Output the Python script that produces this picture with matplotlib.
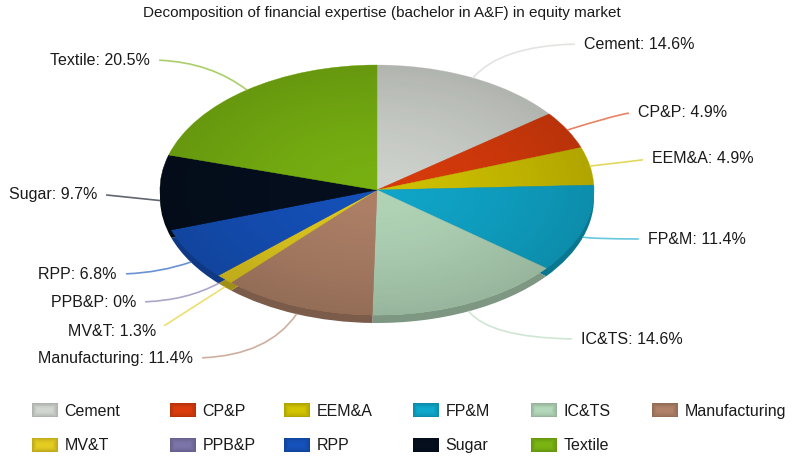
import numpy as np
import matplotlib
matplotlib.use("Agg")
import matplotlib.pyplot as plt
from matplotlib.colors import to_rgb
from matplotlib.legend_handler import HandlerBase
from matplotlib.patches import Circle, Patch, Rectangle

# --- data ---
categories = ["Cement", "CP&P", "EEM&A", "FP&M", "IC&TS", "Manufacturing",
              "MV&T", "PPB&P", "RPP", "Sugar", "Textile"]
shares = [14.6, 4.9, 4.9, 11.4, 14.6, 11.4, 1.3, 0, 6.8, 9.7, 20.5]
share_labels = ["14.6%", "4.9%", "4.9%", "11.4%", "14.6%", "11.4%",
                "1.3%", "0%", "6.8%", "9.7%", "20.5%"]
colors = ["#d2d6d0", "#dc3c0c", "#d2c400", "#10a8cc", "#b4d8ba", "#b08268",
          "#e4cc20", "#7b74a8", "#1552bc", "#050f1e", "#7ab412"]
title = "Decomposition of financial expertise (bachelor in A&F) in equity market"

# label layout, pixels from the top left of the picture
label_x = [584, 638, 652, 648, 581, 193, 156, 136, 117, 97, 150]
label_y = [44, 112, 158, 239, 339, 358, 331, 302, 274, 194, 60]
label_side = ["left"] * 5 + ["right"] * 6

# legend columns, left edge of the swatch in pixels
legend_cols = [[0, 6], [1, 7], [2, 8], [3, 9], [4, 10], [5]]
legend_x = [32, 170, 284, 413, 531, 652]

W, H = 792, 461
CX, CY = 377, 190   # pie centre
RX, RY = 217, 125   # pie radii
DEPTH = 8 / RY


def shade(color, factor):
    return tuple(min(1, c * factor) for c in to_rgb(color))


def lighten(color, amount):
    return tuple(c + (1 - c) * amount for c in to_rgb(color))


class SwatchHandler(HandlerBase):
    # swatch is darker at the edge and lighter in the middle
    def create_artists(self, legend, orig_handle, xdescent, ydescent, width, height, fontsize, trans):
        base = orig_handle.get_facecolor()
        parts = []
        for step, factor in enumerate([0.84, 0.87, 0.9, 0.93, 0.96, 0.98, 1.0]):
            inset = step * 0.6
            parts.append(Rectangle((-xdescent + inset, -ydescent + inset),
                                   width - 2 * inset, height - 2 * inset,
                                   facecolor=shade(base, factor), linewidth=0, transform=trans))
        return parts


plt.rcParams["font.family"] = ["Liberation Sans", "DejaVu Sans"]

fig = plt.figure(figsize=(W / 100, H / 100), dpi=100)
ax = fig.add_axes([0, 0, 1, 1])

# side of the pie first, top goes over it
ax.pie(shares, colors=[shade(c, 0.7) for c in colors], startangle=90, counterclock=False,
       radius=1, center=(0, -DEPTH), frame=False, wedgeprops={"linewidth": 0})
wedges, _ = ax.pie(shares, colors=colors, startangle=90, counterclock=False,
                   radius=1, center=(0, 0), frame=False, wedgeprops={"linewidth": 0.3})
for wedge in wedges:
    wedge.set_edgecolor(wedge.get_facecolor())

# pie() forces equal aspect, the reference is a squashed circle
ax.set_aspect("auto")
ax.axis("off")

# radial shading on the top surface
gx, gy = np.meshgrid(np.linspace(-1, 1, 300), np.linspace(-1, 1, 300))
gr = np.clip(np.sqrt(gx ** 2 + gy ** 2), 0, 1)
overlay = np.zeros((300, 300, 4))
overlay[..., 3] = 0.02 + 0.14 * gr ** 1.5
img = ax.imshow(overlay, extent=(-1, 1, -1, 1), aspect="auto", zorder=3, origin="lower")
img.set_clip_path(Circle((0, 0), 1, transform=ax.transData))
ax.set_xlim(-CX / RX, (W - CX) / RX)
ax.set_ylim(-(H - CY) / RY, CY / RY)

# labels with leader lines from the middle of each wedge
for i, wedge in enumerate(wedges):
    mid = np.radians((wedge.theta1 + wedge.theta2) / 2)
    ux, uy = np.cos(mid), np.sin(mid)
    py = uy - DEPTH if uy < 0 else uy
    radial = np.degrees(np.arctan2(uy * RY, ux * RX))
    flat = min(abs(radial) % 180, 180 - abs(radial) % 180)
    if flat < 5 or categories[i] == "MV&T":
        style = "arc3,rad=0"
    else:
        style = f"angle3,angleA=0,angleB={radial:.1f}"
    side = label_side[i]
    ax.annotate(f"{categories[i]}: {share_labels[i]}", xy=(ux, py), xycoords="data",
                xytext=(label_x[i], H - label_y[i]), textcoords="figure pixels",
                ha=side, va="center", fontsize=11.5, color="#1a1a1a", zorder=5,
                arrowprops={"arrowstyle": "-", "connectionstyle": style,
                            "color": lighten(colors[i], 0.15), "alpha": 0.75, "lw": 1.2,
                            "shrinkA": 5, "shrinkB": 0,
                            "relpos": (0 if side == "left" else 1, 0.5)})

fig.text(381.5 / W, 1 - 13 / H, title, ha="center", va="center", fontsize=10.95, color="#1a1a1a")

# one legend per column so the columns sit where they do in the reference
for col, x in zip(legend_cols, legend_x):
    handles = [Patch(facecolor=colors[i]) for i in col]
    names = [categories[i] for i in col]
    fig.legend(handles, names, loc="upper left", bbox_to_anchor=(x / W, 1 - 403 / H),
               frameon=False, fontsize=11.5, borderpad=0, borderaxespad=0, handlelength=1.6,
               handleheight=1.0, handletextpad=0.45, labelspacing=1.2, labelcolor="#1a1a1a",
               handler_map={Patch: SwatchHandler()})

fig.savefig("out.png", dpi=100)
